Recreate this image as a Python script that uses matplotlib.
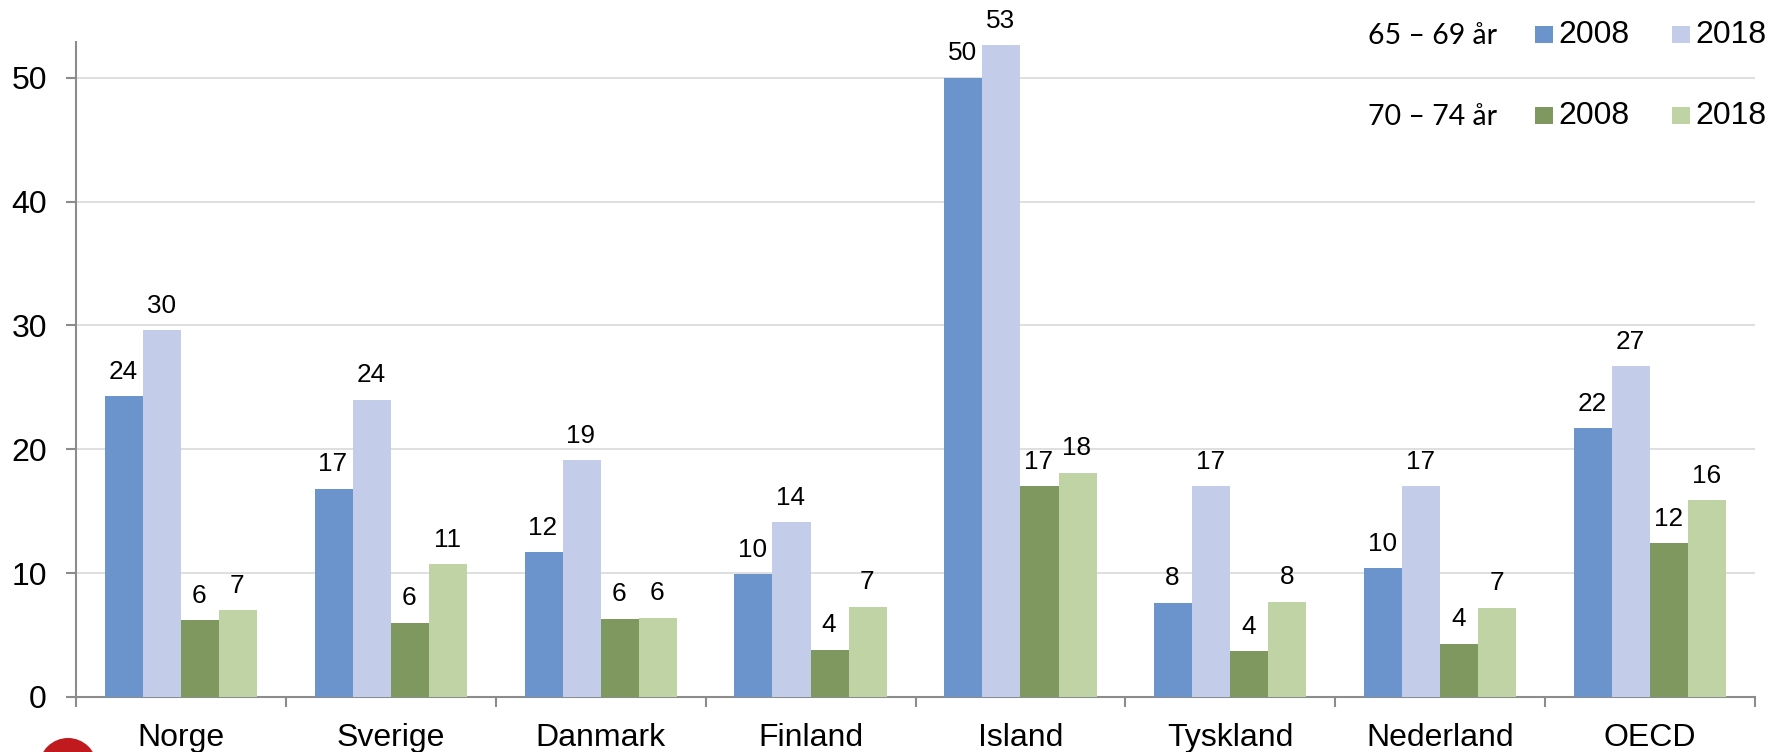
import matplotlib
matplotlib.use("Agg")
import matplotlib.pyplot as plt
from matplotlib.patches import Rectangle, Circle
import numpy as np

W, H = 1775, 752
countries = ["Norge", "Sverige", "Danmark", "Finland", "Island", "Tyskland", "Nederland", "OECD"]
a65_2008 = [24.3, 16.8, 11.7, 9.9, 50.0, 7.6, 10.4, 21.7]
a65_2018 = [29.6, 24.0, 19.1, 14.1, 52.6, 17.0, 17.0, 26.7]
a70_2008 = [6.2, 6.0, 6.3, 3.8, 17.0, 3.7, 4.3, 12.4]
a70_2018 = [7.0, 10.7, 6.4, 7.3, 18.1, 7.7, 7.2, 15.9]
series = [a65_2008, a65_2018, a70_2008, a70_2018]
colors = ["#6c94cc", "#c3cde9", "#7e9860", "#bfd3a5"]
yticks = [0, 10, 20, 30, 40, 50]

plt.rcParams["font.family"] = ["Liberation Sans", "DejaVu Sans"]
fig = plt.figure(figsize=(W / 100, H / 100), dpi=100)
left, right, top, bottom = 76, 1755, 42, 697
ax = fig.add_axes([left / W, 1 - bottom / H, (right - left) / W, (bottom - top) / H])
x = np.arange(len(countries))
bw = 0.1815
for i, (vals, c) in enumerate(zip(series, colors)):
    pos = x + (i - 1.5) * bw
    ax.bar(pos, vals, bw, color=c, zorder=3)
    for p, v in zip(pos, vals):
        ax.annotate(f"{v:.0f}", (p, v), xytext=(-0.5, 9), textcoords="offset points",
                    ha="center", va="bottom", fontsize=18.8, color="black", annotation_clip=False, zorder=4)
ax.set_xlim(-0.5, len(countries) - 0.5)
ax.set_ylim(0, 52.88)
ax.set_yticks(yticks)
ax.set_xticks(np.arange(len(countries) + 1) - 0.5)
ax.set_xticklabels([])
ax.set_xticks(x, minor=True)
ax.set_xticklabels(countries, minor=True)
ax.tick_params(axis="x", which="minor", length=0, labelsize=23, pad=18.5)
ax.tick_params(axis="x", which="major", length=7, width=1.5, color="#8c8c8c")
ax.tick_params(axis="y", length=7, width=1.5, color="#8c8c8c", labelsize=23, pad=14)
ax.grid(axis="y", color="#d9d9d9", lw=1.2, zorder=0)
ax.set_axisbelow(True)
for s in ("top", "right"):
    ax.spines[s].set_visible(False)
for s in ("left", "bottom"):
    ax.spines[s].set_color("#8c8c8c")
    ax.spines[s].set_linewidth(1.5)

def fx(px): return px / W
def fy(py): return 1 - py / H

rows = [("65 – 69 år", 35, colors[0], colors[1]), ("70 – 74 år", 116, colors[2], colors[3])]
for label, yc, c1, c2 in rows:
    fig.text(fx(1368), fy(yc + 1), label, fontsize=20.5, family=["Lato", "DejaVu Sans"], ha="left", va="center")
    for sx, c, yr in ((1535, c1, "2008"), (1672, c2, "2018")):
        fig.add_artist(Rectangle((fx(sx), fy(yc + 8)), 18 / W, 17 / H, transform=fig.transFigure, color=c, lw=0))
        fig.text(fx(sx + 23), fy(yc), yr, fontsize=23, ha="left", va="center")

fig.add_artist(Circle((68, H - 767), 29, transform=None, color="#c01a1e", lw=0))
fig.savefig("out.png", dpi=100)
